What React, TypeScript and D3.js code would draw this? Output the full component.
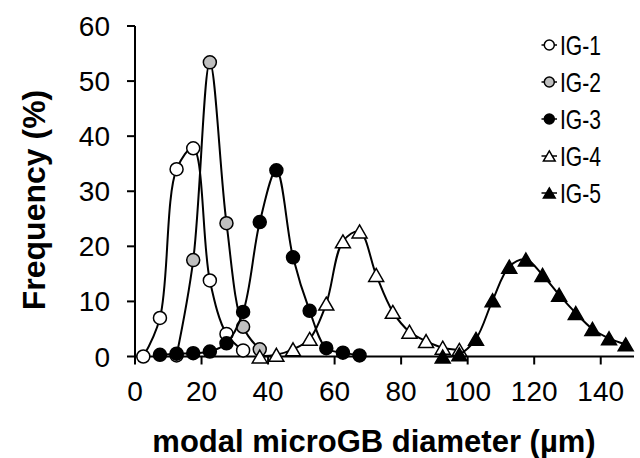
import React from "react";
import * as d3 from "d3";

// bin centres (µm) and frequencies (%) per group
const ig1X = [2.5, 7.5, 12.5, 17.5, 22.5, 27.5, 32.5];
const ig1Y = [0, 7, 34, 37.8, 13.8, 4.1, 1.1];

const ig2X = [12.5, 17.5, 22.5, 27.5, 32.5, 37.5];
const ig2Y = [0.2, 17.5, 53.4, 24.2, 5.4, 1.3];

const ig3X = [7.5, 12.5, 17.5, 22.5, 27.5, 32.5, 37.5, 42.5, 47.5, 52.5, 57.5, 62.5, 67.5];
const ig3Y = [0.3, 0.5, 0.6, 0.9, 2.4, 8.1, 24.4, 33.8, 18.0, 8.3, 1.5, 0.7, 0.2];

const ig4X = [37.5, 42.5, 47.5, 52.5, 57.5, 62.5, 67.5, 72.5, 77.5, 82.5, 87.5, 92.5, 97.5];
const ig4Y = [0, 0.3, 1.3, 3.2, 9.6, 20.9, 22.7, 14.8, 8.1, 4.5, 2.8, 1.6, 1.2];

const ig5X = [92.5, 97.5, 102.5, 107.5, 112.5, 117.5, 122.5, 127.5, 132.5, 137.5, 142.5, 147.5];
const ig5Y = [0, 0.4, 3.2, 10.2, 16.3, 17.6, 14.8, 11.2, 7.9, 5.0, 3.3, 2.2];

const seriesNames = ["IG-1", "IG-2", "IG-3", "IG-4", "IG-5"];
const xTicks = [0, 20, 40, 60, 80, 100, 120, 140];
const yTicks = [0, 10, 20, 30, 40, 50, 60];

const W = 640, H = 458;
const FONT = "'Liberation Sans', Arial, sans-serif";

const x = d3.scaleLinear().domain([0, 150]).range([135, 634]);
const y = d3.scaleLinear().domain([0, 60]).range([356.5, 26]);

const series = [
  { name: seriesNames[0], xs: ig1X, ys: ig1Y, shape: "circle", fill: "#fff" },
  { name: seriesNames[1], xs: ig2X, ys: ig2Y, shape: "circle", fill: "#bfbfbf" },
  { name: seriesNames[2], xs: ig3X, ys: ig3Y, shape: "circle", fill: "#000" },
  { name: seriesNames[3], xs: ig4X, ys: ig4Y, shape: "triangle", fill: "#fff" },
  { name: seriesNames[4], xs: ig5X, ys: ig5Y, shape: "triangle", fill: "#000" },
];

const line = d3
  .line<[number, number]>()
  .x((d) => x(d[0]))
  .y((d) => y(d[1]))
  .curve(d3.curveCatmullRom.alpha(0.5));

// triangle centred on its bounding box, like the spreadsheet markers
const triPath = (size: number) => d3.symbol(d3.symbolTriangle, size)();
const triOffset = (size: number) => Math.sqrt(size / (3 * Math.sqrt(3))) / 2;

const Marker = ({ shape, fill, cx, cy, big }: any) => {
  if (shape === "circle") {
    return <circle cx={cx} cy={cy} r={big ? 6.5 : 5} fill={fill} stroke="#000" strokeWidth={1.5} />;
  }
  const size = big ? 97 : 60;
  return (
    <path
      d={triPath(size) || ""}
      transform={`translate(${cx},${cy + triOffset(size)})`}
      fill={fill}
      stroke="#000"
      strokeWidth={1.5}
      strokeLinejoin="miter"
    />
  );
};

export default function App() {
  const x0 = x(0);
  const y0 = y(0);
  const legendY = d3.scalePoint<string>().domain(seriesNames).range([45, 193]);

  return (
    <svg
      width={W}
      height={H}
      style={{ position: "absolute", left: 0, top: 0, background: "#fff" }}
      fontFamily={FONT}
    >
      {/* axes */}
      <line x1={x0} x2={x0} y1={y.range()[1]} y2={y0} stroke="#000" strokeWidth={2} />
      <line x1={x0} x2={x.range()[1]} y1={y0} y2={y0} stroke="#000" strokeWidth={2} />
      {yTicks.map((t) => (
        <g key={"y" + t}>
          <line x1={x0 - 8} x2={x0} y1={y(t)} y2={y(t)} stroke="#000" strokeWidth={2} />
          <text x={x0 - 25} y={y(t)} dy="0.36em" textAnchor="end" fontSize={28}>
            {t}
          </text>
        </g>
      ))}
      {xTicks.map((t) => (
        <g key={"x" + t}>
          <line x1={x(t)} x2={x(t)} y1={y0} y2={y0 + 8} stroke="#000" strokeWidth={2} />
          <text x={x(t)} y={401} textAnchor="middle" fontSize={28}>
            {t}
          </text>
        </g>
      ))}

      {/* axis titles */}
      <text x={374} y={452} textAnchor="middle" fontSize={31} fontWeight="bold">
        modal microGB diameter (µm)
      </text>
      <text
        transform="translate(45,200) rotate(-90)"
        textAnchor="middle"
        fontSize={32}
        fontWeight="bold"
      >
        Frequency (%)
      </text>

      {/* series */}
      {series.map((s) => {
        const pts = s.xs.map((v, i) => [v, s.ys[i]] as [number, number]);
        return (
          <g key={s.name}>
            <path d={line(pts) || ""} fill="none" stroke="#000" strokeWidth={2} />
            {pts.map((p, i) => (
              <Marker key={i} shape={s.shape} fill={s.fill} cx={x(p[0])} cy={y(p[1])} big />
            ))}
          </g>
        );
      })}

      {/* legend */}
      {series.map((s) => {
        const ly = legendY(s.name) as number;
        return (
          <g key={"lg" + s.name}>
            <line x1={541.5} x2={557} y1={ly} y2={ly} stroke="#000" strokeWidth={1.5} />
            <Marker shape={s.shape} fill={s.fill} cx={549.3} cy={ly} />
            <text
              x={560}
              y={ly + 10}
              fontSize={28}
              textLength={41}
              lengthAdjust="spacingAndGlyphs"
            >
              {s.name}
            </text>
          </g>
        );
      })}
    </svg>
  );
}
